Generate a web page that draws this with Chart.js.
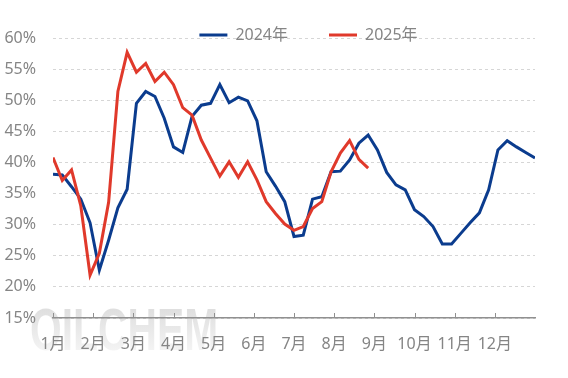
<!DOCTYPE html>
<html>
<head>
<meta charset="utf-8">
<script src="https://cdn.jsdelivr.net/npm/chart.js@4"></script>
<style>
  body { margin: 0; background: #fff; }
  #wrap { position: relative; width: 568px; height: 378px; }
  #mark {
    position: absolute; left: 30px; top: 300px;
    font: bold 60px/60px "Liberation Sans", sans-serif;
    transform: scaleX(0.68); transform-origin: left top;
    background: linear-gradient(#dadada, #f8f8f8);
    -webkit-background-clip: text; background-clip: text; color: transparent;
  }
  canvas { position: absolute; left: 0; top: 0; }
</style>
</head>
<body>
<div id="wrap">
  <div id="mark">OILCHEM</div>
  <canvas id="myChart" width="568" height="378"></canvas>
</div>
<script>
const monthLabels = ['1月', '2月', '3月', '4月', '5月', '6月', '7月', '8月', '9月', '10月', '11月', '12月'];
const seriesNames = ['2024年', '2025年'];
const rate2024 = [38.1, 38.0, 36.1, 34.1, 30.3, 22.7, 27.5, 32.7, 35.7, 49.5, 51.4,
  50.6, 47.1, 42.5, 41.6, 47.4, 49.2, 49.5, 52.5, 49.6, 50.5,
  49.9, 46.7, 38.5, 36.2, 33.7, 28.1, 28.3, 34.1, 34.5, 38.5,
  38.6, 40.4, 43.1, 44.4, 42.0, 38.4, 36.4, 35.6, 32.4, 31.3,
  29.7, 26.9, 26.9, 28.6, 30.3, 31.9, 35.6, 42.0, 43.5, 42.5, 41.6, 40.7];
const rate2025 = [40.8, 37.1, 38.8, 33.0, 21.9, 25.4, 33.6, 51.4, 57.7, 54.5, 55.9,
  53.0, 54.5, 52.5, 48.8, 47.6, 43.6, 40.7, 37.8, 40.1, 37.6,
  40.1, 37.2, 33.7, 31.8, 30.1, 29.1, 29.7, 32.6, 33.7, 38.5,
  41.5, 43.5, 40.5, 39.1];
const weeksInYear = 52;

const fontFamily = '"Noto Sans", "Noto Sans CJK SC", sans-serif';
const grey = '#858585';

const toPoints = (arr) => arr.map((v, i) => ({ x: i, y: v }));

// legend sits over the top gridline, like the original
const legendPlace = {
  id: 'legendPlace',
  beforeInit(chart) {
    const fit = chart.legend.fit;
    chart.legend.fit = function () {
      fit.call(this);
      this.height = 38;
    };
  },
  afterLayout(chart) {
    const lg = chart.legend;
    lg.top = -14;
    lg.bottom = 60;
    lg.left += 41;
    lg.right += 41;
  },
};

// small tick marks pointing up from the x axis
const tickMarks = {
  id: 'tickMarks',
  afterDraw(chart) {
    const sx = chart.scales.x;
    const ctx = chart.ctx;
    ctx.save();
    ctx.strokeStyle = '#909090';
    ctx.lineWidth = 1;
    sx.ticks.forEach((t) => {
      const px = Math.round(sx.getPixelForValue(t.value)) + 0.5;
      ctx.beginPath();
      ctx.moveTo(px, sx.top - 5);
      ctx.lineTo(px, sx.top);
      ctx.stroke();
    });
    ctx.restore();
  },
};

const config = {
  type: 'line',
  data: {
    datasets: [
      {
        label: seriesNames[0],
        data: toPoints(rate2024),
        borderColor: '#0b3c8e',
        backgroundColor: '#0b3c8e',
        borderWidth: 3,
        pointRadius: 0,
        order: 1,
      },
      {
        label: seriesNames[1],
        data: toPoints(rate2025),
        borderColor: '#e0392b',
        backgroundColor: '#e0392b',
        borderWidth: 3,
        pointRadius: 0,
        order: 0,
      },
    ],
  },
  options: {
    responsive: false,
    animation: false,
    layout: { padding: { left: 0, right: 33, top: 0, bottom: 0 } },
    plugins: {
      tooltip: { enabled: false },
      legend: {
        position: 'top',
        labels: {
          sort: (a, b) => a.datasetIndex - b.datasetIndex,
          usePointStyle: true,
          pointStyle: 'line',
          pointStyleWidth: 28,
          boxWidth: 28,
          padding: 41,
          color: grey,
          font: { family: fontFamily, size: 16 },
        },
      },
    },
    scales: {
      x: {
        type: 'linear',
        min: 0,
        max: weeksInYear,
        afterBuildTicks(scale) {
          scale.ticks = monthLabels.map((m, i) => ({ value: i * weeksInYear / 12 }));
        },
        afterFit(scale) { scale.height = 60; },
        grid: { display: false, drawTicks: false },
        border: { display: true, color: '#909090', width: 1.5 },
        ticks: {
          autoSkip: false,
          maxRotation: 0,
          padding: 17,
          color: grey,
          font: { family: fontFamily, size: 16 },
          callback: (value, index) => monthLabels[index],
        },
      },
      y: {
        min: 15,
        max: 60,
        afterFit(scale) { scale.width = 53; },
        grid: { color: '#d6d6d6', lineWidth: 1, drawTicks: false },
        border: { display: false, dash: [3, 3] },
        ticks: {
          stepSize: 5,
          padding: 17,
          color: grey,
          font: { family: fontFamily, size: 16 },
          callback: (v) => v + '%',
        },
      },
    },
  },
  plugins: [legendPlace, tickMarks],
};

const myChart = new Chart(document.getElementById('myChart'), config);
</script>
</body>
</html>
